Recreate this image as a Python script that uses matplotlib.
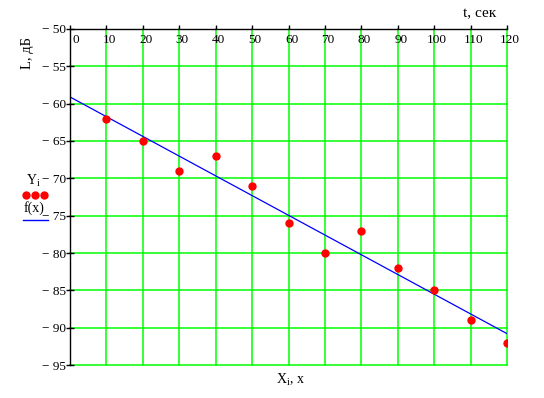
import numpy as np
import matplotlib.pyplot as plt
from matplotlib.lines import Line2D
from matplotlib.transforms import offset_copy

plt.rcParams['font.family'] = ['Liberation Serif', 'DejaVu Serif']
plt.rcParams['mathtext.fontset'] = 'custom'
plt.rcParams['mathtext.rm'] = 'Liberation Serif'
plt.rcParams['mathtext.it'] = 'Liberation Serif'

# measured points
t_sec = [10, 20, 30, 40, 50, 60, 70, 80, 90, 100, 110, 120]
level_db = [-62, -65, -69, -67, -71, -76, -80, -77, -82, -85, -89, -92]

# fitted line f(x), read at both ends of the plot
fit_x = [0, 120]
fit_y = [-59.1, -90.8]

x_ticks = list(range(0, 121, 10))
y_ticks = list(range(-95, -49, 5))

GREEN = '#00ff00'

fig = plt.figure(figsize=(5.44, 3.98), dpi=100)
ax = fig.add_axes([70 / 544, 1 - 365 / 398, 437 / 544, 336 / 398])

ax.set_xlim(0, 120)
ax.set_ylim(-95, -50)

# grid (no line on the axes themselves)
for xv in x_ticks[1:]:
    ax.axvline(xv, color=GREEN, lw=1.1, clip_on=False, zorder=1)
for yv in y_ticks[:-1]:
    ax.axhline(yv, color=GREEN, lw=1.1, clip_on=False, zorder=1)

ax.plot(fit_x, fit_y, color='#0000ff', lw=0.9, zorder=3)
ax.plot(t_sec, level_db, 'o', color='#ff0000', ms=5, mec='#ff0000', zorder=4)

for s in ['right', 'bottom']:
    ax.spines[s].set_visible(False)
for s in ['left', 'top']:
    ax.spines[s].set_color('black')
    ax.spines[s].set_linewidth(1.0)
    ax.spines[s].set_zorder(5)

ax.xaxis.tick_top()
ax.set_xticks(x_ticks)
ax.set_xticklabels([])
ax.tick_params(axis='x', direction='out', length=3, width=1, color='black')
ax.set_yticks(y_ticks)
ax.set_yticklabels(['\u2212 %d' % abs(v) for v in y_ticks], fontsize=9.5)
ax.tick_params(axis='y', direction='inout', length=6, width=1, pad=0, color='black')

# x tick labels sit just under the top axis
lab_tr = offset_copy(ax.get_xaxis_transform(), fig=fig, x=3, y=-11, units='dots')
for xv in x_ticks:
    ax.text(xv + (0.8 if xv == 0 else 0), 1, str(xv), transform=lab_tr,
            ha='center', va='center', fontsize=9.5)

fig.text(28 / 544, 1 - 53 / 398, 'L, дБ', rotation=90, ha='center', va='center', fontsize=10.5)
fig.text(480 / 544, 1 - 14 / 398, 't, сек', ha='center', va='center', fontsize=11)
fig.text(290 / 544, 1 - 380 / 398, r'X$_\mathrm{i}$, x', ha='center', va='center', fontsize=10)

# legend on the left
fig.text(26 / 544, 1 - 181 / 398, r'Y$_\mathrm{i}$', ha='left', va='center', fontsize=10)
for lx in [26, 35, 44]:
    fig.add_artist(Line2D([lx / 544], [1 - 195 / 398], marker='o', ms=5,
                          color='#ff0000', transform=fig.transFigure))
fig.text(24 / 544, 1 - 208 / 398, 'f(x)', ha='left', va='center', fontsize=10)
fig.add_artist(Line2D([23 / 544, 48 / 544], [1 - 220 / 398] * 2, color='#0000ff',
                      lw=1, transform=fig.transFigure))

fig.savefig('out.png', dpi=100)
